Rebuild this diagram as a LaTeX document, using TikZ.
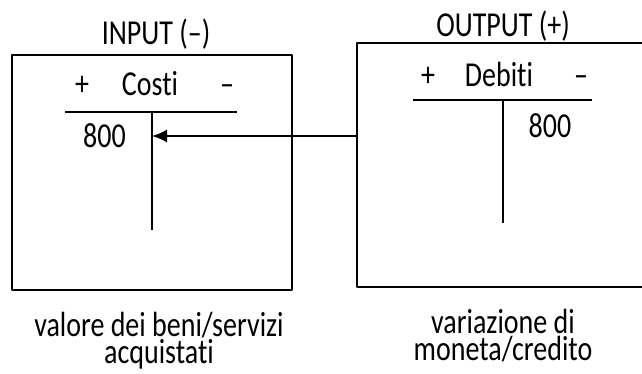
\documentclass[tikz,border=0pt]{standalone}
\usepackage{fontspec}
\setmainfont{Carlito}[FakeStretch=0.8,Ligatures=NoCommon]
\usetikzlibrary{arrows.meta}
\tikzset{
  lbl/.style={font=\fontsize{35bp}{35bp}\selectfont, inner sep=0pt, anchor=base},
  captext/.style={font=\fontsize{35bp}{27bp}\selectfont, inner sep=0pt, align=center, anchor=base},
  frame/.style={draw, inner sep=0pt, minimum width=280bp, minimum height=235bp},
}
\begin{document}
\begin{tikzpicture}[>={Latex[length=15bp,width=13bp]},line join=bevel]
  \pgfsetlinewidth{1.8bp}
  \useasboundingbox (0bp,0bp) rectangle (642bp,374bp);
%%
  % Node: inbox
  \node[frame] (inbox) at (152bp,201.5bp) {};
  \node[lbl] (intitle) at (156bp,329bp) {INPUT (–)};
  % Node: outbox (open on the right)
\begin{scope}
  \coordinate (outtr) at (642bp,331bp);
  \coordinate (outtl) at (357bp,331bp);
  \coordinate (outbl) at (357bp,87bp);
  \coordinate (outbr) at (642bp,87bp);
  \draw (outtr) -- (outtl) -- (outbl) -- (outbr);
\end{scope}
  \node[lbl] (outtitle) at (503bp,337bp) {OUTPUT (+)};
  % Node: costi
\begin{scope}
  \node[lbl] (costiplus) at (82bp,278bp) {+};
  \node[lbl] (costi) at (150bp,278bp) {Costi};
  \node[lbl] (costiminus) at (227bp,278bp) {–};
  \coordinate (costil) at (65bp,262bp);
  \coordinate (costir) at (237bp,262bp);
  \coordinate (costiaxis) at (152bp,262bp);
  \coordinate (costiend) at (152bp,144bp);
  \draw (costil) -- (costir);
  \draw (costiaxis) -- (costiend);
  \node[lbl] (costival) at (104.5bp,226bp) {800};
\end{scope}
  % Node: debiti
\begin{scope}
  \node[lbl] (debitiplus) at (428bp,287bp) {+};
  \node[lbl] (debiti) at (499bp,287bp) {Debiti};
  \node[lbl] (debitiminus) at (581bp,287bp) {–};
  \coordinate (debitil) at (413bp,274bp);
  \coordinate (debitir) at (592bp,274bp);
  \coordinate (debitiaxis) at (503bp,274bp);
  \coordinate (debitiend) at (503bp,151bp);
  \draw (debitil) -- (debitir);
  \draw (debitiaxis) -- (debitiend);
  \node[lbl] (debitival) at (550bp,236bp) {800};
\end{scope}
  % Edge: outbox -> costi
  \coordinate (outhook) at (357bp,238bp);
  \draw [->] (outhook) -- (outhook -| costiaxis);
  % Captions
  \node[captext] (incap) at (159bp,11bp) {valore dei beni/servizi\\acquistati};
  \node[captext] (outcap) at (503bp,14bp) {variazione di\\moneta/credito};
%
\end{tikzpicture}
\end{document}
